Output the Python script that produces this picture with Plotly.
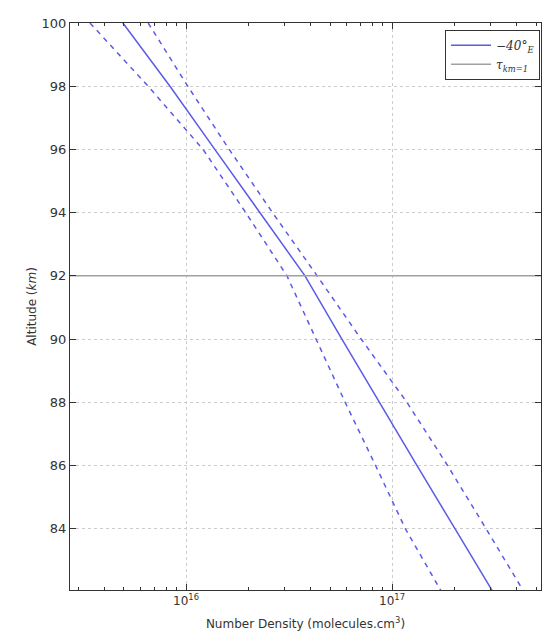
import plotly.graph_objects as go

altitude = [100, 98, 96, 94, 92, 90, 88, 86, 84, 82]
density_mid = [4.94e15, 8.36e15, 1.38e16, 2.29e16, 3.78e16, 5.71e16, 8.65e16, 1.32e17, 2.02e17, 3.09e17]
density_low = [3.42e15, 6.55e15, 1.21e16, 1.95e16, 3.09e16, 4.27e16, 5.92e16, 8.32e16, 1.16e17, 1.74e17]
density_high = [6.55e15, 1.02e16, 1.62e16, 2.63e16, 4.33e16, 7.08e16, 1.18e17, 1.86e17, 2.86e17, 4.37e17]
tau_alt = 92
x_range_log = [15.437, 17.723]
y_range = [82.06, 100]
x_tickvals = [1e16, 1e17]
x_ticktext = ["10<sup>16</sup>", "10<sup>17</sup>"]
x_minor_ticks = [3e15, 4e15, 5e15, 6e15, 7e15, 8e15, 9e15,
                 2e16, 3e16, 4e16, 5e16, 6e16, 7e16, 8e16, 9e16,
                 2e17, 3e17, 4e17, 5e17]
y_tickvals = [84, 86, 88, 90, 92, 94, 96, 98, 100]

blue = "#5b5be8"
fig = go.Figure()
fig.add_trace(go.Scatter(x=density_mid, y=altitude, mode="lines",
                         line=dict(color=blue, width=1.5), name="<i>−40°<sub>E</sub></i>"))
fig.add_trace(go.Scatter(x=density_low, y=altitude, mode="lines",
                         line=dict(color=blue, width=1.5, dash="5px,5px"), showlegend=False))
fig.add_trace(go.Scatter(x=density_high, y=altitude, mode="lines",
                         line=dict(color=blue, width=1.5, dash="5px,5px"), showlegend=False))
fig.add_trace(go.Scatter(x=[10**x_range_log[0], 10**x_range_log[1]], y=[tau_alt, tau_alt], mode="lines",
                         line=dict(color="#a0a0a0", width=1.5), name="<i>τ<sub>km=1</sub></i>"))

fig.update_layout(
    width=542, height=639,
    margin=dict(l=70, r=1, t=23, b=49),
    paper_bgcolor="white", plot_bgcolor="white",
    font=dict(family="DejaVu Sans", size=12, color="#333333"),
    showlegend=True,
    legend=dict(x=0.998, y=0.988, xanchor="right", yanchor="top",
                bordercolor="#333333", borderwidth=1, bgcolor="white",
                font=dict(family="DejaVu Serif", size=12, color="#333333"),
                itemwidth=40, tracegroupgap=2),
)
fig.update_xaxes(type="log", range=x_range_log, tickvals=x_tickvals, ticktext=x_ticktext,
                 ticks="inside", ticklen=6, tickcolor="#333333", mirror="allticks",
                 showline=True, linecolor="#333333", linewidth=1,
                 showgrid=True, gridcolor="#cccccc", griddash="dot", gridwidth=1,
                 minor=dict(tickmode="array", tickvals=x_minor_ticks, ticks="inside",
                            ticklen=3, tickcolor="#333333", showgrid=False),
                 zeroline=False, tickfont=dict(size=12),
                 title=dict(text="Number Density (molecules.cm<sup>3</sup>)", font=dict(size=12), standoff=12))
fig.update_yaxes(range=y_range, tickvals=y_tickvals,
                 ticks="inside", ticklen=6, tickcolor="#333333", mirror="allticks",
                 showline=True, linecolor="#333333", linewidth=1,
                 showgrid=True, gridcolor="#cccccc", griddash="dot", gridwidth=1,
                 zeroline=False, tickfont=dict(size=13),
                 title=dict(text="Altitude (<i>km</i>)", font=dict(size=12), standoff=2))

fig.write_html("out.html", config={"displayModeBar": False},
               post_script="document.body.style.margin='0';document.body.style.overflow='hidden';")
